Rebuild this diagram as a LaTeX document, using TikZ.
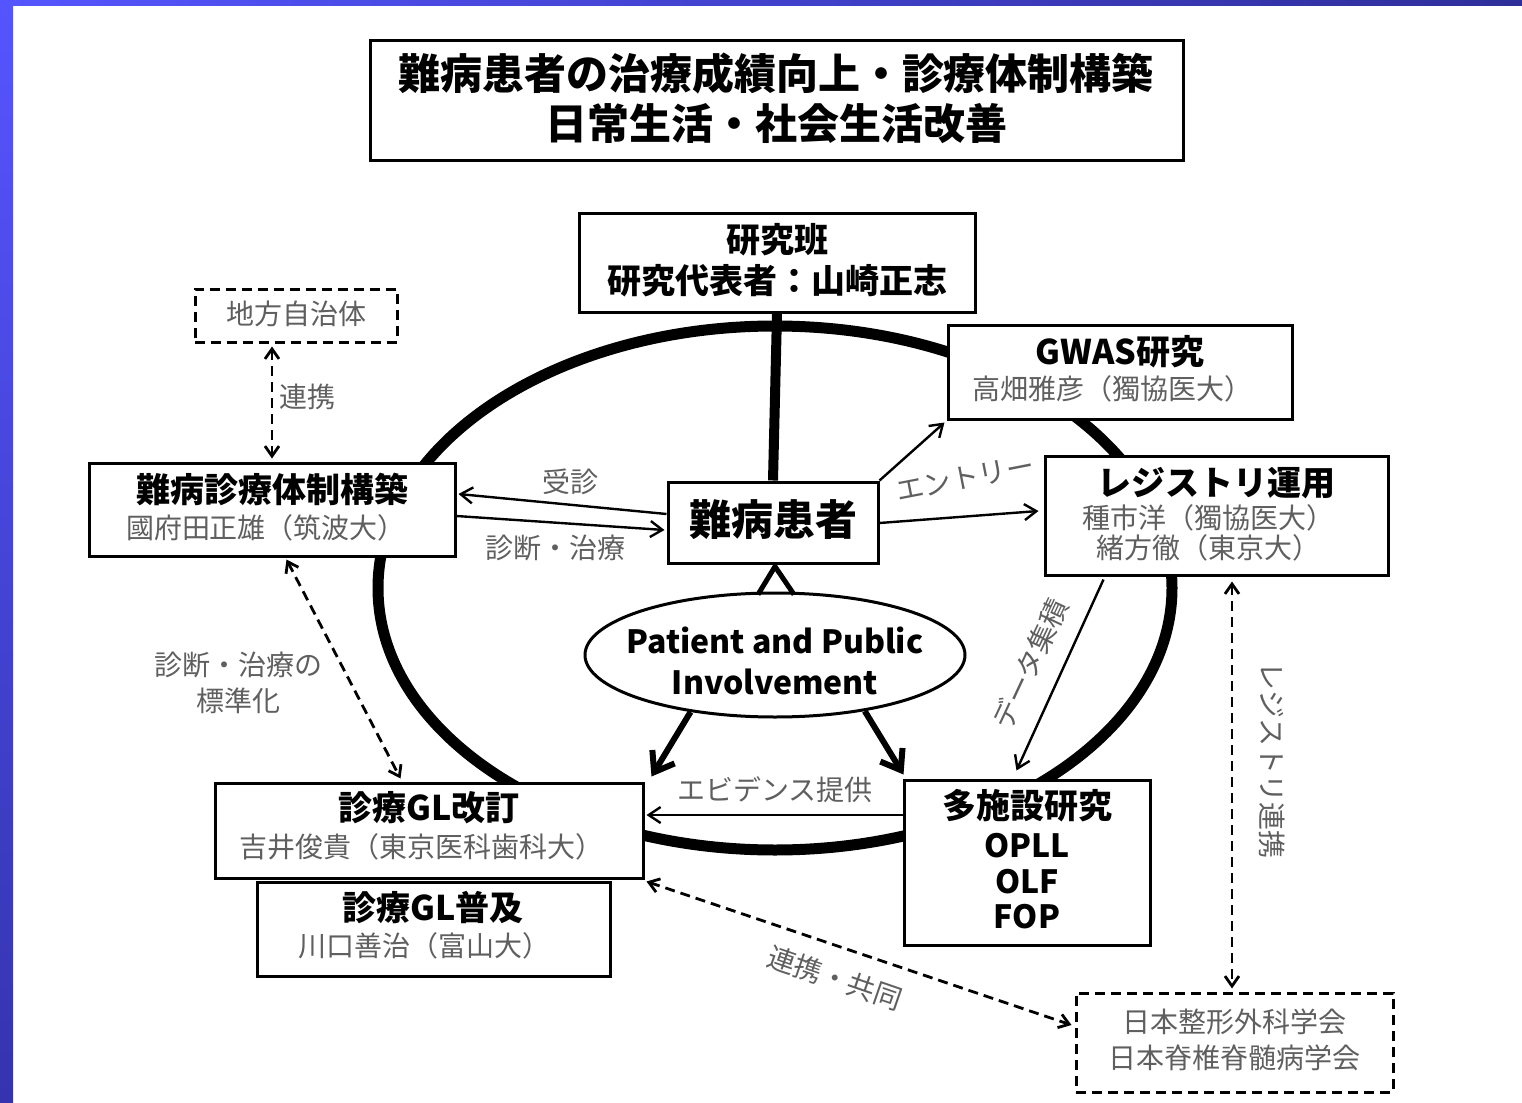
\documentclass[tikz,border=0pt]{standalone}
\usepackage{fontspec}
\setmainfont{Noto Sans CJK JP}
\usetikzlibrary{arrows.meta,calc,shapes.geometric,backgrounds}
\definecolor{tg}{RGB}{95,95,95}
\definecolor{bluA}{RGB}{85,85,255}
\definecolor{bluB}{RGB}{52,52,175}
\definecolor{bluC}{RGB}{46,46,154}
\begin{document}
\begin{tikzpicture}[x=0.5pt,y=-0.5pt,
  box/.style={draw=black,line width=1.5pt,fill=white,rectangle,inner sep=0pt},
  dbox/.style={box,dash pattern=on 5pt off 3pt,line width=1.5pt},
  hd/.style={font=\bfseries\fontsize{17}{20}\selectfont,inner sep=0pt},
  big/.style={font=\bfseries\fontsize{21}{24}\selectfont,inner sep=0pt},
  sub/.style={text=tg,font=\fontsize{14}{16}\selectfont,inner sep=0pt},
  lbl/.style={text=tg,font=\fontsize{14}{16}\selectfont,inner sep=0pt},
  thinarrow/.style={line width=1.2pt,-{Straight Barb[length=6pt,width=8pt]}},
  dsharrow/.style={line width=1.4pt,dash pattern=on 5pt off 3pt,{Straight Barb[length=5pt,width=7pt]}-{Straight Barb[length=5pt,width=7pt]}},
  fatarrow/.style={line width=3pt,-{Straight Barb[length=9pt,width=13pt]}},
  ring/.style={line width=5.5pt}
]
\useasboundingbox (0,0) rectangle (1522,1103);

% boxes
\node[box,minimum width=406.5pt,minimum height=60pt] (title) at (776.5,100) {};
\node[big] (title1) at (776,73) {難病患者の治療成績向上・診療体制構築};
\node[big] (title2) at (776,124) {日常生活・社会生活改善};

\node[box,minimum width=198pt,minimum height=49.5pt] (ken) at (777,262.5) {};
\node[hd] (ken1) at (777,240) {研究班};
\node[hd] (ken2) at (777,281) {研究代表者：山崎正志};

\node[dbox,minimum width=101pt,minimum height=26.5pt] (jichi) at (296,315.5) {};
\node[sub] (jichi1) at (296,314) {地方自治体};

\node[box,minimum width=183pt,minimum height=46.5pt] (shin) at (272,509.5) {};
\node[hd] (shin1) at (272,489) {難病診療体制構築};
\node[sub] (shin2) at (266,528) {國府田正雄（筑波大）};

\node[box,minimum width=105pt,minimum height=40.5pt] (pat) at (773,522.5) {};
\node[big] (pat1) at (773,520) {難病患者};

\node[box,minimum width=172pt,minimum height=47pt] (gwas) at (1120,372) {};
\node[hd] (gwas1) at (1120,352) {GWAS研究};
\node[sub] (gwas2) at (1112,389) {高畑雅彦（獨協医大）};

\node[box,minimum width=171.5pt,minimum height=59.5pt] (reg) at (1216.5,515.5) {};
\node[hd] (reg1) at (1216,483) {レジストリ運用};
\node[sub] (reg2) at (1208,518) {種市洋（獨協医大）};
\node[sub] (reg3) at (1208,548) {緒方徹（東京大）};

\node[ellipse,draw=black,line width=1.5pt,fill=white,minimum width=190pt,minimum height=62pt,inner sep=0pt] (ppi) at (775,655) {};
\node[font=\bfseries\fontsize{16}{19}\selectfont,inner sep=0pt] (ppi1) at (775,640) {Patient and Public};
\node[font=\bfseries\fontsize{16}{19}\selectfont,inner sep=0pt] (ppi2) at (775,682) {Involvement};

\node[box,minimum width=214pt,minimum height=47.5pt] (gl) at (429,830.5) {};
\node[hd] (gl1) at (429,808) {診療GL改訂};
\node[sub] (gl2) at (421,847) {吉井俊貴（東京医科歯科大）};

\node[box,minimum width=176.5pt,minimum height=47pt] (glf) at (433.5,929) {};
\node[hd] (glf1) at (433,908) {診療GL普及};
\node[sub] (glf2) at (424,946) {川口善治（富山大）};

\node[box,minimum width=123pt,minimum height=82.5pt] (multi) at (1027,862.5) {};
\node[hd] (multi1) at (1027,806) {多施設研究};
\node[hd,font=\bfseries\fontsize{16}{19}\selectfont] (multi2) at (1027,846) {OPLL};
\node[hd,font=\bfseries\fontsize{16}{19}\selectfont] (multi3) at (1027,882) {OLF};
\node[hd,font=\bfseries\fontsize{16}{19}\selectfont] (multi4) at (1027,917) {FOP};

\node[dbox,minimum width=158.5pt,minimum height=49.5pt] (jpn) at (1234.5,1042.5) {};
\node[sub] (jpn1) at (1234.5,1022) {日本整形外科学会};
\node[sub] (jpn2) at (1234.5,1058) {日本脊椎脊髄病学会};

% background: border and ring
\begin{pgfonlayer}{background}
\shade[top color=bluA,bottom color=bluB] (0,0) rectangle (13,1103);
\shade[left color=bluA,right color=bluC] (0,0) rectangle (1522,5);
\node[ellipse,draw=black,ring,minimum width=397pt,minimum height=262pt,inner sep=0pt] (bigring) at (775,588) {};
\draw[line width=5pt] (ken.south) -- (pat.north);
\end{pgfonlayer}

% triangle
\draw[line width=2.5pt,line join=miter] ($(ppi.north)+(-17,3)$) -- ($(pat.south)+(2,2)$) -- ($(ppi.north)+(19,3)$);

% thick arrows
\coordinate (glin) at ($(gl.north east)+(7,-5)$);
\coordinate (muin) at ($(multi.north west)+(1,-4)$);
\draw[fatarrow] (ppi.214) -- (glin);
\draw[fatarrow] (ppi.328) -- (muin);

% thin arrows
\draw[thinarrow] ($(pat.west)+(0,-8.5)$) -- ($(shin.east)+(2,-15.5)$);
\draw[thinarrow] ($(shin.east)+(0,6.5)$) -- ($(pat.west)+(-2,7.5)$);
\draw[thinarrow] (pat.north east) -- ($(gwas.south west)+(-2,2)$);
\draw[thinarrow] ($(pat.east)+(0,0.5)$) -- ($(reg.west)+(-5,-4.5)$);
\draw[thinarrow] ($(reg.south west)+(60,3)$) -- ($(multi.north west)+(114,-8)$);
\draw[thinarrow] ($(multi.west)+(0,-47.5)$) -- ($(gl.east)+(2,-15.5)$);

% dashed arrows
\draw[dsharrow] ($(jichi.south)+(-24,3)$) -- ($(shin.north)+(0,-3)$);
\draw[dsharrow] ($(shin.south west)+(199,2)$) -- ($(gl.north west)+(187,-3)$);
\draw[dsharrow] ($(gl.south east)+(2,2)$) -- ($(jpn.west)+(-3,-17.5)$);
\draw[dsharrow] ($(reg.south)+(15.5,5)$) -- ($(jpn.north)+(-2.5,-3)$);

% labels
\node[lbl] (l1) at (307,397) {連携};
\node[lbl] (l2) at (570,482) {受診};
\node[lbl] (l3) at (555,548) {診断・治療};
\node[lbl,rotate=11] (l4) at (965,478) {エントリー};
\node[lbl,rotate=65] (l5) at (1030,664) {データ集積};
\node[lbl] (l6) at (775,790) {エビデンス提供};
\node[lbl] (l7) at (238,665) {診断・治療の};
\node[lbl] (l8) at (238,701) {標準化};
\node[lbl,rotate=-19] (l9) at (835,978) {連携・共同};
\node[lbl,rotate=-90] (l10) at (1272,760) {レジストリ連携};
\end{tikzpicture}
\end{document}
